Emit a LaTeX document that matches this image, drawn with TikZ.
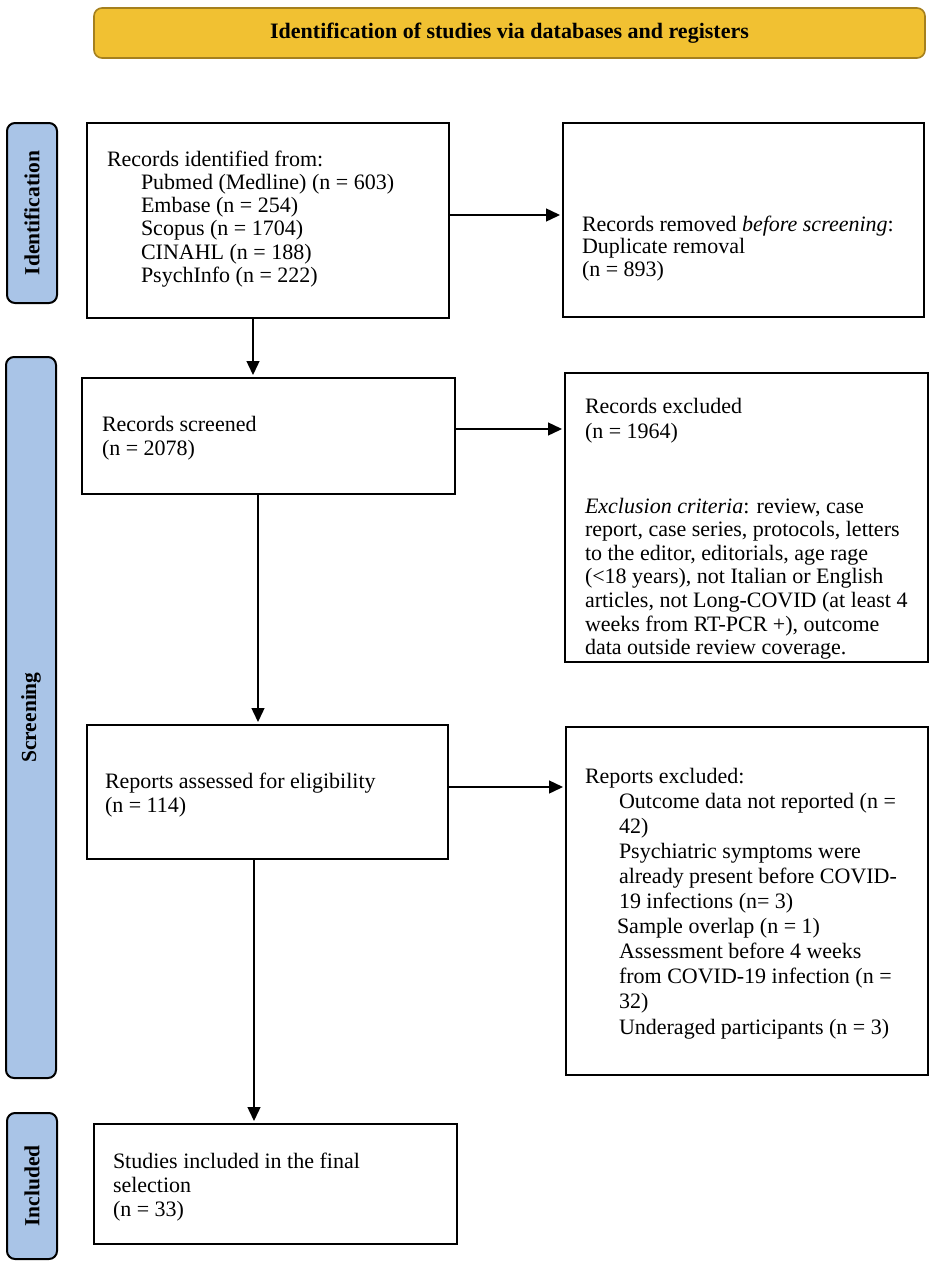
\documentclass[tikz,border=0pt]{standalone}
\usepackage{fontspec}
\setmainfont{Liberation Serif}
\usetikzlibrary{arrows.meta,calc}
\definecolor{gold}{RGB}{241,193,50}
\definecolor{goldline}{RGB}{165,128,30}
\definecolor{sideblue}{RGB}{169,196,231}
\newcommand{\tb}[2]{\parbox[t]{420pt}{\fontsize{22}{#1}\selectfont\raggedright #2}}
\newcommand{\ind}{\hspace*{34pt}}
\tikzset{
  x=1pt, y=-1pt,
  box/.style={draw=black, line width=1.8pt, inner sep=0pt, outer sep=0pt, anchor=north west},
  txt/.style={anchor=base west, inner sep=0pt, outer sep=0pt},
  side/.style={draw=black, fill=sideblue, line width=2pt, rounded corners=8pt, rotate=90,
    minimum height=50pt, inner sep=0pt, font=\fontsize{21.5}{24}\selectfont\bfseries},
  header/.style={draw=goldline, fill=gold, line width=1.6pt, rounded corners=8pt,
    minimum width=831pt, minimum height=50pt, inner sep=0pt, font=\fontsize{22}{24}\selectfont\bfseries},
  arr/.style={line width=1.4pt, -{Triangle[length=14pt,width=13pt]}, shorten >=3pt},
}
\begin{document}
\begin{tikzpicture}
\useasboundingbox (0,0) rectangle (935,1266);

% header
\node[header] (hdr) at (509.5,33) {Identification of studies via databases and registers};

% side labels
\node[side, minimum width=180pt] (sid) at (32,213) {Identification};
\node[side, minimum width=721pt] (sscr) at (31,717.5) {Screening};
\node[side, minimum width=146pt] (sinc) at (32,1186) {Included};

% boxes
\node[box, minimum width=362pt, minimum height=195pt] (b1) at (87,123) {};
\node[box, minimum width=361pt, minimum height=194pt] (b2) at (563,123) {};
\node[box, minimum width=373pt, minimum height=116pt] (b3) at (82,378) {};
\node[box, minimum width=363pt, minimum height=289pt] (b4) at (565,373) {};
\node[box, minimum width=361pt, minimum height=134pt] (b5) at (87,725) {};
\node[box, minimum width=362pt, minimum height=348pt] (b6) at (566,727) {};
\node[box, minimum width=363pt, minimum height=120pt] (b7) at (94,1124) {};

% texts
\node[txt] (t1) at (107,166) {\tb{23.3}{Records identified from:\\
\ind Pubmed (Medline) (n = 603)\\
\ind Embase (n = 254)\\
\ind Scopus (n = 1704)\\
\ind CINAHL (n = 188)\\
\ind PsychInfo (n = 222)}};

\node[txt] (t2) at (582,231) {\tb{22.5}{Records removed \textit{before screening}:\\
Duplicate removal\\
(n = 893)}};

\node[txt] (t3) at (102,431) {\tb{24}{Records screened\\
(n = 2078)}};

\node[txt] (t4a) at (585,413) {\tb{25}{Records excluded\\
(n = 1964)}};
\node[txt] (t4b) at (585,513) {\tb{23.6}{\textit{Exclusion criteria}: review, case\\
report, case series, protocols, letters\\
to the editor, editorials, age rage\\
(<18 years), not Italian or English\\
articles, not Long-COVID (at least 4\\
weeks from RT-PCR +), outcome\\
data outside review coverage.}};

\node[txt] (t5) at (105,788) {\tb{24}{Reports assessed for eligibility\\
(n = 114)}};

\node[txt] (t6) at (585,783) {\tb{25.1}{Reports excluded:\\
\ind Outcome data not reported (n =\\
\ind 42)\\
\ind Psychiatric symptoms were\\
\ind already present before COVID-\\
\ind 19 infections (n= 3)\\
\hspace*{32pt}Sample overlap (n = 1)\\
\ind Assessment before 4 weeks\\
\ind from COVID-19 infection (n =\\
\ind 32)\\
\ind Underaged participants (n = 3)}};

\node[txt] (t7) at (113,1168) {\tb{24}{Studies included in the final\\
selection\\
(n = 33)}};

% connectors
\draw[arr] ([yshift=5.5pt]b1.east) -- ([yshift=5.5pt]b1.east -| b2.west);
\draw[arr] ([yshift=7pt]b3.east) -- ([yshift=7pt]b3.east -| b4.west);
\draw[arr] ([yshift=5pt]b5.east) -- ([yshift=5pt]b5.east -| b6.west);
\draw[arr] ([xshift=-15pt]b1.south) -- ([xshift=-15pt]b1.south |- b3.north);
\draw[arr] ([xshift=-10.5pt]b3.south) -- ([xshift=-10.5pt]b3.south |- b5.north);
\draw[arr] ([xshift=-13.5pt]b5.south) -- ([xshift=-13.5pt]b5.south |- b7.north);
\end{tikzpicture}
\end{document}
